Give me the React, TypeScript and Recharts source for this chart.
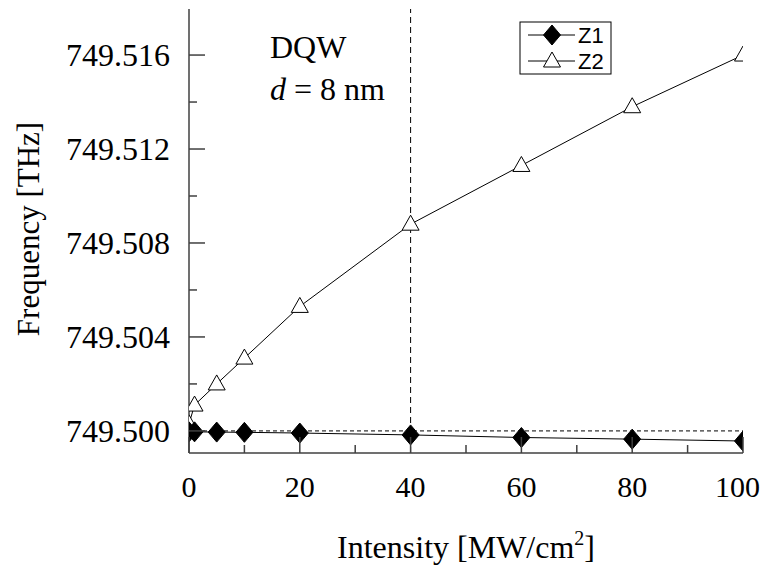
import { LineChart, Line, XAxis, YAxis, ReferenceLine, Label } from "recharts";

const intensity = [0, 1, 5, 10, 20, 40, 60, 80, 100];
const z1Freq = [749.49996, 749.49996, 749.49995, 749.49994, 749.49991, 749.49983, 749.49972, 749.49965, 749.49957];
const z2Freq = [749.5003, 749.5011, 749.502, 749.5031, 749.5053, 749.5088, 749.5113, 749.5138, 749.516];

const xTicks = [0, 10, 20, 30, 40, 50, 60, 70, 80, 90, 100];
const yTicks = [749.5, 749.502, 749.504, 749.506, 749.508, 749.51, 749.512, 749.514, 749.516];
const yDomain = [749.49906, 749.51796];

const data = intensity.map((x, i) => ({ intensity: x, z1: z1Freq[i], z2: z2Freq[i] }));

const serif = "'Liberation Serif', 'Times New Roman', serif";
const axisColor = "#404040";

function YTick(props: any) {
  const { x, y, payload } = props;
  const major = Math.round(payload.value * 1000) % 4 === 0;
  const axisX = x + 19;
  return (
    <g>
      <line x1={axisX} x2={axisX + (major ? 16 : 8)} y1={y} y2={y} stroke={axisColor} strokeWidth={1.5} />
      {major && (
        <text x={x} y={y + 11} textAnchor="end" fontFamily={serif} fontSize={32} fill="#000">
          {payload.value.toFixed(3)}
        </text>
      )}
    </g>
  );
}

function XTick(props: any) {
  const { x, y, payload } = props;
  const major = payload.value % 20 === 0;
  const label = String(payload.value);
  const half = label.length * 0.25 * 30;
  // keep the last label inside the page
  const tx = Math.min(x, 760 - half);
  return (
    <g>
      <line x1={x} x2={x} y1={y} y2={y - (major ? 16 : 8)} stroke={axisColor} strokeWidth={1.5} />
      {major && (
        <text x={tx} y={y + 44} textAnchor="middle" fontFamily={serif} fontSize={30} fill="#000">
          {label}
        </text>
      )}
    </g>
  );
}

function Diamond(props: any) {
  const { cx, cy } = props;
  if (cx == null || cy == null) return null;
  return <polygon points={`${cx},${cy - 10} ${cx + 8.5},${cy} ${cx},${cy + 10} ${cx - 8.5},${cy}`} fill="#000" stroke="#000" />;
}

function Triangle(props: any) {
  const { cx, cy } = props;
  if (cx == null || cy == null) return null;
  return <polygon points={`${cx},${cy - 9} ${cx + 8.5},${cy + 6} ${cx - 8.5},${cy + 6}`} fill="#fff" stroke="#000" strokeWidth={1} />;
}

function XTitle(props: any) {
  const vb = props.viewBox;
  return (
    <text x={vb.x + vb.width / 2} y={vb.y + 105} textAnchor="middle" fontFamily={serif} fontSize={32} fill="#000">
      Intensity [MW/cm
      <tspan fontSize={20} dy={-13}>2</tspan>
      <tspan dy={13}>]</tspan>
    </text>
  );
}

function YTitle(props: any) {
  const vb = props.viewBox;
  const cy = vb.y + vb.height / 2 - 2;
  return (
    <text transform={`translate(28, ${cy}) rotate(-90)`} x={0} y={11} textAnchor="middle" fontFamily={serif} fontSize={31} fill="#000">
      Frequency [THz]
    </text>
  );
}

export default function App() {
  return (
    <div style={{ position: "absolute", left: 0, top: 0, width: 763, height: 566, background: "#fff" }}>
      <LineChart width={763} height={566} data={data} margin={{ top: 9, right: 20, bottom: 0, left: 0 }}>
        <XAxis
          dataKey="intensity"
          type="number"
          domain={[0, 100]}
          ticks={xTicks}
          interval={0}
          allowDataOverflow
          height={113}
          tickSize={0}
          tickMargin={0}
          tickLine={false}
          tick={<XTick />}
          axisLine={{ stroke: axisColor, strokeWidth: 1.5 }}
        >
          <Label content={<XTitle />} />
        </XAxis>
        <XAxis xAxisId="top" orientation="top" dataKey="intensity" type="number" domain={[0, 100]} height={0} tick={false} tickLine={false} axisLine={{ stroke: axisColor, strokeWidth: 1.5 }} />
        <YAxis
          type="number"
          domain={yDomain}
          ticks={yTicks}
          interval={0}
          allowDataOverflow
          width={189}
          tickSize={0}
          tickMargin={19}
          tickLine={false}
          tick={<YTick />}
          axisLine={{ stroke: axisColor, strokeWidth: 1.5 }}
        >
          <Label content={<YTitle />} />
        </YAxis>
        <YAxis yAxisId="right" orientation="right" type="number" domain={yDomain} width={0} tick={false} tickLine={false} axisLine={{ stroke: axisColor, strokeWidth: 1.5 }} />
        <ReferenceLine x={40} stroke="#000" strokeDasharray="6 4" strokeWidth={1} />
        <ReferenceLine y={749.5} stroke="#000" strokeDasharray="4 3" strokeWidth={1} />
        <Line dataKey="z2" stroke="#000" strokeWidth={1} dot={<Triangle />} isAnimationActive={false} />
        <Line dataKey="z1" stroke="#000" strokeWidth={1} dot={<Diamond />} isAnimationActive={false} />
      </LineChart>
      <svg width={763} height={566} style={{ position: "absolute", left: 0, top: 0, pointerEvents: "none" }}>
        <text x={270} y={58} fontFamily={serif} fontSize={32} fill="#000">DQW</text>
        <text x={270} y={100} fontFamily={serif} fontSize={32} fill="#000">
          <tspan fontStyle="italic">d</tspan> = 8 nm
        </text>
        <g>
          <rect x={520} y={22} width={91} height={52} fill="#fff" stroke="#000" strokeWidth={1} />
          <line x1={528} x2={575} y1={35} y2={35} stroke="#000" />
          <Diamond cx={552} cy={35} />
          <text x={578} y={43} fontFamily="'Liberation Sans', Arial, sans-serif" fontSize={22} fill="#000">Z1</text>
          <line x1={528} x2={575} y1={61} y2={61} stroke="#000" />
          <Triangle cx={552} cy={61} />
          <text x={578} y={69} fontFamily="'Liberation Sans', Arial, sans-serif" fontSize={22} fill="#000">Z2</text>
        </g>
      </svg>
    </div>
  );
}
